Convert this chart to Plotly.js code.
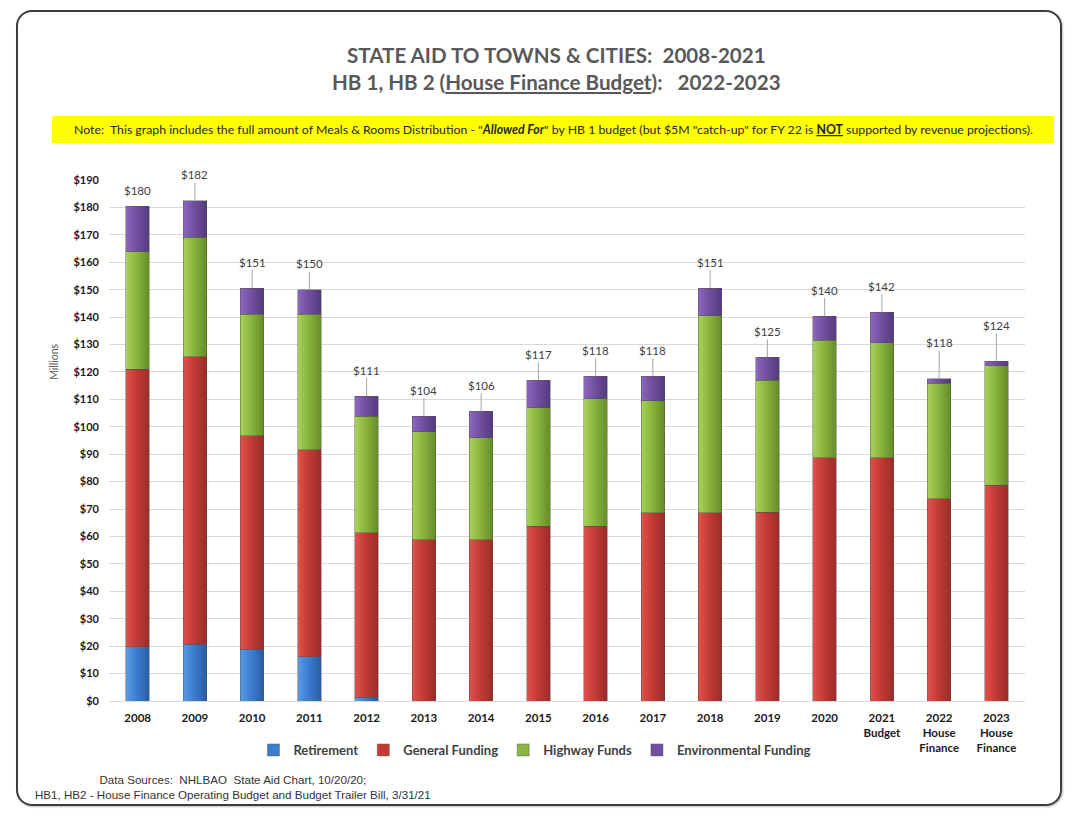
<!DOCTYPE html>
<html>
<head>
<meta charset="utf-8">
<script src="https://cdn.plot.ly/plotly-3.0.1.min.js"></script>
<style>
  html, body { margin: 0; padding: 0; background: #ffffff; }
  #wrap { position: relative; width: 1085px; height: 822px; }
  #chart { position: absolute; left: 0; top: 0; width: 1085px; height: 822px; }
  #frame { position: absolute; left: 16px; top: 10px; width: 1046px; height: 796px; box-sizing: border-box;
           border: 2px solid #3c3c3c; border-radius: 16px; pointer-events: none;
           box-shadow: 1px 1px 2px rgba(0,0,0,0.25); }
</style>
</head>
<body>
<div id="wrap">
  <div id="chart"></div>
  <div id="frame"></div>
</div>
<script>
// ---------------- DATA (millions of dollars) ----------------
const years = ["2008","2009","2010","2011","2012","2013","2014","2015","2016","2017",
               "2018","2019","2020","2021<br>Budget","2022<br>House<br>Finance","2023<br>House<br>Finance"];
const retirement    = [19.7, 20.7, 18.8, 16.2, 1.3, 0, 0, 0, 0, 0, 0, 0, 0, 0, 0, 0];
const generalFund   = [101.2, 104.8, 77.9, 75.5, 60.0, 58.8, 58.8, 63.7, 63.7, 68.6, 68.6, 68.9, 88.8, 88.8, 73.7, 78.7];
const highwayFunds  = [42.9, 43.6, 44.3, 49.4, 42.5, 39.4, 37.2, 43.2, 46.5, 40.9, 71.9, 48.1, 42.8, 41.8, 42.1, 43.6];
const environmental = [16.6, 13.3, 9.6, 8.8, 7.4, 5.7, 9.6, 10.1, 8.2, 8.9, 10.1, 8.3, 8.8, 11.2, 1.8, 1.6];
const seriesNames   = ["Retirement", "General Funding", "Highway Funds", "Environmental Funding"];
const yTickVals     = [0,10,20,30,40,50,60,70,80,90,100,110,120,130,140,150,160,170,180,190];

// ---------------- STYLE ----------------
const FONT = "Lato, 'Noto Sans', sans-serif";
const colors = ["#3d7dd0", "#c23b36", "#8ab53e", "#7150a0"];
const gradStops = [
  ["#5a9be8", "#3d7dd0", "#2a5ca3"],
  ["#e2524b", "#c23b36", "#9a2c29"],
  ["#a8d257", "#8ab53e", "#658c29"],
  ["#8d68c0", "#7150a0", "#553a7d"]
];
// pixel lift of each total label above its bar (style only), by category index
const labelLift = {0: -16, 14: -36, 15: -36};

const dataArrays = [retirement, generalFund, highwayFunds, environmental];
const traces = dataArrays.map((arr, i) => ({
  type: "bar",
  name: seriesNames[i],
  x: years,
  y: arr,
  marker: { color: colors[i], line: { color: "rgba(80,80,80,0.55)", width: 0.8 } },
  hoverinfo: "x+y+name"
}));

const totals = years.map((_, k) => dataArrays.reduce((s, a) => s + a[k], 0));

// total labels: x is the category index on the category axis
const annotations = years.map((yr, k) => ({
  x: k, y: totals[k], xref: "x", yref: "y",
  text: "$" + Math.round(totals[k]),
  showarrow: true, arrowhead: 0, arrowwidth: 1,
  arrowcolor: (k === 0 ? "rgba(0,0,0,0)" : "#a6a6a6"),
  ax: 0, ay: (labelLift[k] !== undefined ? labelLift[k] : -26), standoff: 0,
  font: { family: FONT, size: 11.5, color: "#404040" }
}));

// titles and notes
annotations.push({
  xref: "paper", yref: "paper", x: 0.489, y: 1.240, showarrow: false,
  text: "<b>STATE AID TO TOWNS &amp; CITIES:  2008-2021</b>",
  font: { family: FONT, size: 20.6, color: "#595959" }, xanchor: "center", yanchor: "middle"
});
annotations.push({
  xref: "paper", yref: "paper", x: 0.489, y: 1.188, showarrow: false,
  text: "<b>HB 1, HB 2 (<u>House Finance Budget</u>):   2022-2023</b>",
  font: { family: FONT, size: 20.6, color: "#595959" }, xanchor: "center", yanchor: "middle"
});
annotations.push({
  xref: "paper", yref: "paper", x: 0.485, y: 1.097, showarrow: false,
  text: "Note:  This graph includes the full amount of Meals &amp; Rooms Distribution - \"<b><i>Allowed For</i></b>\" by HB 1 budget (but $5M \"catch-up\" for FY 22 is <b><u>NOT</u></b> supported by revenue projections).",
  font: { family: FONT, size: 12.3, color: "#262626" }, xanchor: "center", yanchor: "middle"
});
annotations.push({
  xref: "paper", yref: "paper", x: -0.060, y: 0.651, showarrow: false, textangle: -90,
  text: "Millions", font: { family: FONT, size: 10.5, color: "#595959" },
  xanchor: "center", yanchor: "middle"
});
annotations.push({
  xref: "paper", yref: "paper", x: 0.1359, y: -0.166, showarrow: false,
  text: "Data Sources:  NHLBAO  State Aid Chart, 10/20/20;<br>HB1, HB2 - House Finance Operating Budget and Budget Trailer Bill, 3/31/21",
  font: { family: "'Liberation Sans', Arial, sans-serif", size: 11.6, color: "#333333" },
  xanchor: "center", yanchor: "middle", align: "center"
});

const layout = {
  width: 1085, height: 822, autosize: false,
  margin: { l: 109, r: 60, t: 180, b: 121 },
  paper_bgcolor: "rgba(0,0,0,0)", plot_bgcolor: "#ffffff",
  barmode: "stack", bargap: 0.59,
  showlegend: true,
  legend: {
    orientation: "h", x: 0.465, xanchor: "center", y: -0.094, yanchor: "middle",
    traceorder: "normal", font: { family: FONT, size: 13, color: "#404040", weight: "bold" },
    itemwidth: 30, bgcolor: "rgba(0,0,0,0)"
  },
  xaxis: {
    type: "category", range: [-0.5, years.length - 0.5],
    tickfont: { family: FONT, size: 11.5, color: "#1a1a1a", weight: "bold" },
    showline: true, linecolor: "#d9d9d9", linewidth: 1, ticks: "", showgrid: false,
    ticklabelstandoff: 6, fixedrange: true
  },
  yaxis: {
    range: [0, 190], tickvals: yTickVals, ticktext: yTickVals.map(v => "$" + v),
    tickfont: { family: FONT, size: 11, color: "#1a1a1a", weight: "bold" },
    showgrid: true, gridcolor: "#d9d9d9", gridwidth: 1, zeroline: false,
    showline: false, ticks: "", ticklabelstandoff: 9, fixedrange: true
  },
  shapes: [{
    type: "rect", xref: "paper", yref: "paper",
    x0: -0.0622, x1: 1.0317, y0: 1.071, y1: 1.123,
    fillcolor: "#ffff00", line: { width: 0 }, layer: "below"
  }],
  annotations: annotations
};

Plotly.newPlot("chart", traces, layout, { displayModeBar: false, staticPlot: true }).then(gd => {
  const svg = gd.querySelector(".main-svg");
  let defs = svg.querySelector("defs");
  const NS = "http://www.w3.org/2000/svg";
  gradStops.forEach((st, i) => {
    const g = document.createElementNS(NS, "linearGradient");
    g.setAttribute("id", "bargrad" + i);
    g.setAttribute("x1", "0"); g.setAttribute("y1", "0");
    g.setAttribute("x2", "1"); g.setAttribute("y2", "0");
    [[0, st[0]], [0.45, st[1]], [1, st[2]]].forEach(([o, c]) => {
      const s = document.createElementNS(NS, "stop");
      s.setAttribute("offset", o); s.setAttribute("stop-color", c);
      g.appendChild(s);
    });
    defs.appendChild(g);
  });
  gd.querySelectorAll(".barlayer .trace").forEach((tr, i) => {
    tr.querySelectorAll(".point path").forEach(p => { p.style.fill = "url(#bargrad" + i + ")"; });
  });
});
</script>
</body>
</html>
